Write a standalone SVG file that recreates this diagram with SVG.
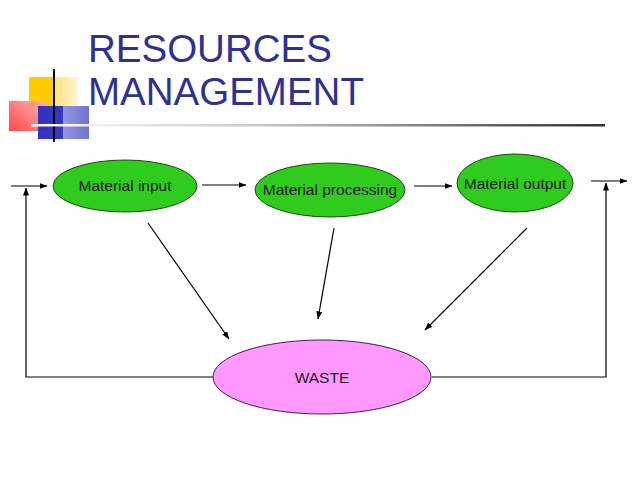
<svg xmlns="http://www.w3.org/2000/svg" width="638" height="479" viewBox="0 0 638 479">
<defs>
<marker id="ah" markerWidth="8" markerHeight="6" refX="7.5" refY="3" orient="auto" markerUnits="userSpaceOnUse">
<path d="M0,0 L8,3 L0,6 Z" fill="#000"/>
</marker>
<linearGradient id="yel" x1="0" x2="1" y1="0" y2="0">
<stop offset="0" stop-color="#ffcc00"/>
<stop offset="0.48" stop-color="#ffcc00"/>
<stop offset="0.5" stop-color="#ffe27a"/>
<stop offset="1" stop-color="#fff6d0"/>
</linearGradient>
<linearGradient id="red" x1="0" x2="1" y1="1" y2="0">
<stop offset="0" stop-color="#ff3333"/>
<stop offset="1" stop-color="#ffb0b0"/>
</linearGradient>
<linearGradient id="blu" x1="0" x2="1" y1="0" y2="0">
<stop offset="0" stop-color="#2b2bbf"/>
<stop offset="0.48" stop-color="#2b2bbf"/>
<stop offset="0.5" stop-color="#8f8fe0"/>
<stop offset="1" stop-color="#6a6ad0"/>
</linearGradient>
<linearGradient id="rule" x1="0" x2="1" y1="0" y2="0">
<stop offset="0" stop-color="#ffffff"/>
<stop offset="0.4" stop-color="#c8c8c8"/>
<stop offset="1" stop-color="#333333"/>
</linearGradient>
</defs>
<style>
.title{font-family:"Liberation Sans",Arial,sans-serif;font-size:38.5px;fill:#2e3192}
.lbl{font-family:"Liberation Sans",Arial,sans-serif;font-size:15.5px;fill:#1a1a1a;text-anchor:middle}
.green{fill:#2fcc1e;stroke:#1a4d10;stroke-width:1}
.pink{fill:#ff99ff;stroke:#4d1a4d;stroke-width:1}
.con{stroke:#000;stroke-width:1.2;fill:none}
</style>
<rect width="638" height="479" fill="#fff"/>
<g id="decor">
<rect x="29" y="77" width="49" height="30" fill="url(#yel)"/>
<rect x="9" y="101" width="39" height="30" fill="url(#red)" opacity="0.9"/>
<rect x="38" y="106" width="51" height="33" fill="url(#blu)" opacity="0.95"/>
<line x1="54" y1="69" x2="54" y2="142" stroke="#000" stroke-width="2"/>
<rect x="31" y="124" width="574" height="2.5" fill="url(#rule)"/>
</g>
<g id="title">
<text class="title" x="88" y="62">RESOURCES</text>
<text class="title" x="88" y="105">MANAGEMENT</text>
</g>
<g id="connectors">
<line class="con" x1="11" y1="186" x2="47" y2="186" marker-end="url(#ah)"/>
<polyline class="con" points="213,377 26,377 26,188" marker-end="url(#ah)"/>
<line class="con" x1="202" y1="185" x2="246" y2="185" marker-end="url(#ah)"/>
<line class="con" x1="414" y1="186" x2="452" y2="186" marker-end="url(#ah)"/>
<line class="con" x1="591" y1="181" x2="627" y2="181" marker-end="url(#ah)"/>
<polyline class="con" points="432,377 606,377 606,183" marker-end="url(#ah)"/>
<line class="con" x1="148" y1="223" x2="229" y2="339" marker-end="url(#ah)"/>
<line class="con" x1="334" y1="228" x2="318" y2="319" marker-end="url(#ah)"/>
<line class="con" x1="527" y1="228" x2="425" y2="330" marker-end="url(#ah)"/>
</g>
<g id="material-input">
<ellipse class="green" cx="125" cy="186" rx="72" ry="26"/>
<text class="lbl" x="125" y="191">Material input</text>
</g>
<g id="material-processing">
<ellipse class="green" cx="330" cy="190" rx="75" ry="27"/>
<text class="lbl" x="330" y="195">Material processing</text>
</g>
<g id="material-output">
<ellipse class="green" cx="515" cy="183" rx="58" ry="29"/>
<text class="lbl" x="515" y="189">Material output</text>
</g>
<g id="waste">
<ellipse class="pink" cx="322" cy="377" rx="109" ry="37"/>
<text class="lbl" x="322" y="383">WASTE</text>
</g>
</svg>
